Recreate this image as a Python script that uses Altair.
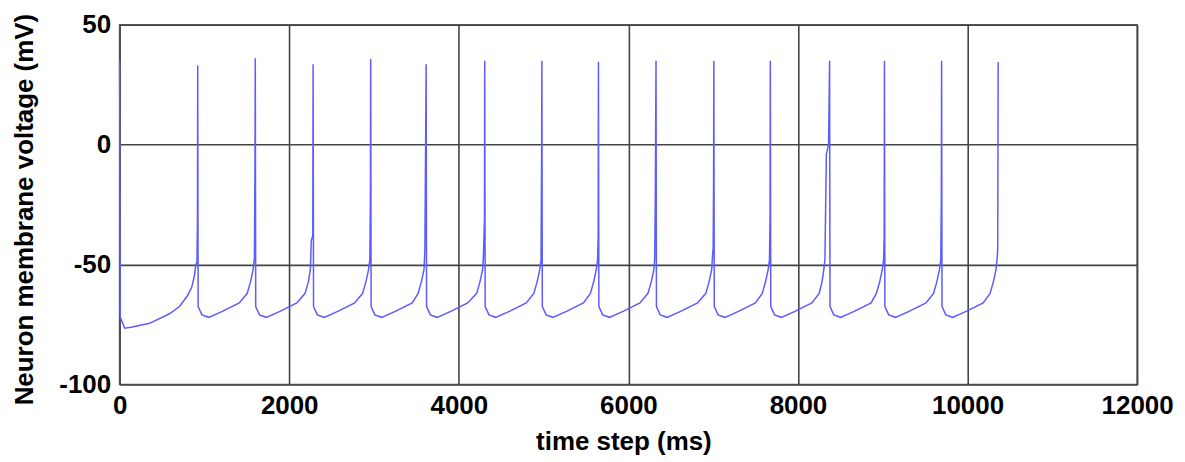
import altair as alt
import pandas as pd

# time (ms) and membrane voltage (mV)
t_ms = [
    0, 8, 60, 150, 353, 588, 706, 800, 850, 880, 900, 912, 918, 921,
    926, 971, 1051, 1211, 1411, 1505, 1545, 1575, 1590, 1597, 1600,
    1605, 1650, 1730, 1890, 2090, 2187, 2227, 2250, 2260, 2278, 2282,
    2287, 2332, 2412, 2572, 2772, 2866, 2906, 2936, 2951, 2958, 2961,
    2966, 3011, 3091, 3251, 3451, 3520, 3560, 3590, 3600, 3612, 3615,
    3620, 3665, 3745, 3905, 4105, 4211, 4251, 4281, 4290, 4303, 4306,
    4311, 4356, 4436, 4596, 4796, 4885, 4925, 4955, 4970, 4977, 4980,
    4985, 5030, 5110, 5270, 5470, 5552, 5592, 5622, 5637, 5644, 5647,
    5652, 5697, 5777, 5937, 6137, 6231, 6271, 6301, 6310, 6318, 6326,
    6331, 6376, 6456, 6616, 6816, 6913, 6953, 6983, 6993, 7000, 7005, 7008,
    7013, 7058, 7138, 7298, 7498, 7579, 7619, 7649, 7664, 7671, 7674,
    7679, 7724, 7804, 7964, 8164, 8250, 8285, 8305, 8318, 8335, 8361, 8373,
    8378, 8423, 8503, 8663, 8863, 8925, 8965, 8995, 9010, 9017, 9020,
    9025, 9070, 9150, 9310, 9510, 9599, 9639, 9669, 9684, 9691, 9694,
    9699, 9744, 9824, 9984, 10184, 10266, 10306, 10336, 10350, 10356, 10361,
]
v_mv = [
    35, -72, -76.5, -76, -74.5, -70.5, -67.5, -63, -59.5, -55, -50, -49, -32, 33,
    -67.5, -71, -72, -69.5, -66, -62, -57, -52, -47, -4, 36,
    -67.5, -71, -72, -69.5, -66, -62, -57, -52, -40, -38, 33.5,
    -67.5, -71, -72, -69.5, -66, -62, -57, -52, -48, -21, 35.7,
    -67.5, -71, -72, -69.5, -66, -62, -57, -52, -44, 16.5, 33.5,
    -67.5, -71, -72, -69.5, -66, -62, -57, -52, -47, -31, 35,
    -67.5, -71, -72, -69.5, -66, -62, -57, -52, -48, -2, 35,
    -67.5, -71, -72, -69.5, -66, -62, -57, -52, -48, -38, 34.6,
    -67.5, -71, -72, -69.5, -66, -62, -57, -52, -48, -21, 35,
    -67.5, -71, -72, -69.5, -66, -62, -57, -52, -46, -43, -15, 35,
    -67.5, -71, -72, -69.5, -66, -62, -57, -52, -48, -31, 35,
    -67.5, -71, -72, -69.5, -66, -62, -57, -52, -48, -4, 0, 35,
    -67.5, -71, -72, -69.5, -66, -62, -57, -52, -48, -38, 35,
    -67.5, -71, -72, -69.5, -66, -62, -57, -52, -48, -22, 35,
    -67.5, -71, -72, -69.5, -66, -62, -57, -52, -47, -43, 34.5,
]

x_ticks = [0, 2000, 4000, 6000, 8000, 10000, 12000]
y_ticks = [-100, -50, 0, 50]

df = pd.DataFrame({"t": t_ms, "v": v_mv, "i": list(range(len(t_ms)))})

FONT = "Liberation Sans"
W, H = 1021, 361

line = alt.Chart(df).mark_line(
    color="#5c5cff", strokeWidth=1.5
).encode(
    x=alt.X(
        "t:Q",
        scale=alt.Scale(domain=[0, 12000], nice=False, zero=False),
        axis=alt.Axis(
            values=x_ticks, title="time step (ms)",
            labelExpr="toString(datum.value)",
            labelFlush=False, labelOverlap=False, tickSize=0,
            labelPadding=8, titleX=W / 2 - 5, titleY=65,
            titleBaseline="alphabetic", titleAlign="center",
        ),
    ),
    y=alt.Y(
        "v:Q",
        scale=alt.Scale(domain=[-100, 50], nice=False, zero=False),
        axis=alt.Axis(
            values=y_ticks, title="Neuron membrane voltage (mV)",
            labelExpr="toString(datum.value)",
            labelFlush=False, labelOverlap=False, tickSize=0,
            labelPadding=9, titleX=-87, titleY=185, titleAngle=-90,
            titleBaseline="alphabetic", titleAlign="center",
        ),
    ),
    order="i:Q",
)

chart = line.properties(
    width=W, height=H,
    background="white",
    autosize=alt.AutoSizeParams(type="none"),
    padding={"left": 112, "top": 16, "right": 40, "bottom": 76},
).configure_view(
    stroke="#666666", strokeWidth=1.6
).configure_axis(
    domain=False,
    grid=True, gridColor="#444444", gridWidth=1.6, gridOpacity=1,
    labelFont=FONT, labelFontSize=26, labelFontWeight="bold", labelColor="#000000",
    titleFont=FONT, titleFontSize=26, titleFontWeight="bold", titleColor="#000000",
)

chart.save("out.html", embed_options={"renderer": "svg", "actions": False})
